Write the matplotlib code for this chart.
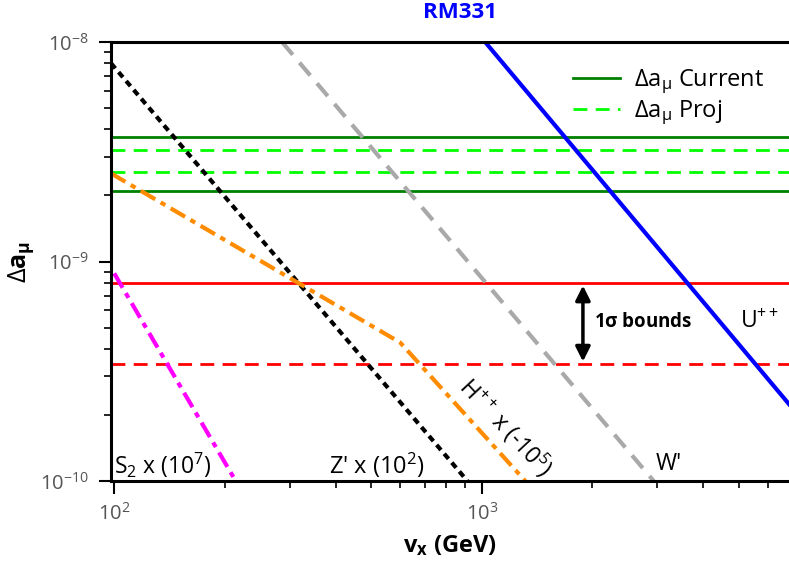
# -*- coding: utf-8 -*-
# contributions au g-2 du muon dans le RM331
import numpy as np
import matplotlib.pyplot as plt

plt.rcParams['font.family'] = ['Open Sans', 'DejaVu Sans']
plt.rcParams['mathtext.fontset'] = 'custom'
plt.rcParams['mathtext.rm'] = 'Open Sans'
plt.rcParams['mathtext.it'] = 'Open Sans:italic'
plt.rcParams['mathtext.bf'] = 'Open Sans:bold'

# bandes horizontales
da_current = [3.70e-9, 2.10e-9]
da_proj = [3.22e-9, 2.56e-9]
sigma_up = 8.0e-10
sigma_lo = 3.40e-10

# courbes (v_x en GeV, Delta a_mu)
U_v = [1021, 6850]
U_da = [1.0e-8, 2.24e-10]
W_v = [286, 2935]
W_da = [1.0e-8, 1.0e-10]
Z_v = [98, 914]
Z_da = [8.0e-9, 1.0e-10]
H_v = [98, 600, 1313]
H_da = [2.52e-9, 4.27e-10, 1.0e-10]
S_v = [100, 214]
S_da = [8.83e-10, 1.0e-10]

fig = plt.figure(figsize=(7.89, 5.71), dpi=100)
ax = fig.add_axes([111/789, 90/571, 678/789, 439/571])

for i, y in enumerate(da_current):
    ax.axhline(y, color='green', lw=2, label=r'$\Delta$a$_\mathdefault{μ}$ Current' if i == 0 else None)
for i, y in enumerate(da_proj):
    ax.axhline(y, color='lime', lw=2, ls=(0, (5, 3)), label=r'$\Delta$a$_\mathdefault{μ}$ Proj' if i == 0 else None)
ax.axhline(sigma_up, color='red', lw=2)
ax.axhline(sigma_lo, color='red', lw=2, ls=(0, (5, 3)))

ax.plot(U_v, U_da, color='blue', lw=3)
ax.plot(W_v, W_da, color='darkgray', lw=3, ls=(0, (4, 2.5)))
ax.plot(Z_v, Z_da, color='black', lw=3, ls=(0, (1.6, 1.2)))
ax.plot(H_v, H_da, color='darkorange', lw=3, ls=(0, (4, 1.5, 1.3, 1.5)))
ax.plot(S_v, S_da, color='magenta', lw=3, ls=(0, (4, 1.5, 1.3, 1.5)))

ax.set_xscale('log')
ax.set_yscale('log')
ax.set_xlim(98, 6850)
ax.set_ylim(1e-10, 1e-8)

for s in ['left', 'top', 'bottom']:
    ax.spines[s].set_linewidth(2.2)
ax.spines['right'].set_visible(False)
ax.tick_params(which='major', direction='out', length=9, width=1.5, labelsize=14.5, labelcolor='#555555', pad=7)
ax.tick_params(which='minor', direction='out', length=5, width=1.2)

ax.set_xlabel(r'v$_\mathdefault{x}$ (GeV)', fontsize=17, fontweight='bold', labelpad=6)
ax.set_ylabel(r'$\Delta$a$_\mathdefault{μ}$', fontsize=18, fontweight='bold')
ax.yaxis.set_label_coords(-0.11, 0.5)
ax.set_title('RM331', fontsize=16, fontweight='bold', color='blue', x=0.515, pad=17)

# textes
ax.text(100, 1.18e-10, r'S$_\mathdefault{2}$ x (10$^\mathdefault{7}$)', fontsize=16.5, va='center')
ax.text(385, 1.18e-10, r"Z' x (10$^\mathdefault{2}$)", fontsize=17, va='center')
ax.text(1160, 1.75e-10, r'H$^\mathdefault{++}$ x (-10$^\mathdefault{5}$)', fontsize=16.5, rotation=-47,
        ha='center', va='center')
ax.text(2980, 1.2e-10, "W'", fontsize=16.5, va='center')
ax.text(5050, 5.3e-10, r'U$^\mathdefault{++}$', fontsize=16.5, va='center')
ax.text(2020, 5.3e-10, r'1$\mathdefault{σ}$ bounds', fontsize=13.5, fontweight='bold', va='center')
ax.annotate('', xy=(1884, 3.4e-10), xytext=(1884, 8.0e-10),
            arrowprops=dict(arrowstyle='<|-|>', color='black', lw=2.5, mutation_scale=22))

ax.legend(loc='upper right', bbox_to_anchor=(0.995, 0.99), frameon=False, fontsize=17,
          handlelength=2.0, handletextpad=0.6, labelspacing=0.1)

plt.savefig('out.png', dpi=100)
